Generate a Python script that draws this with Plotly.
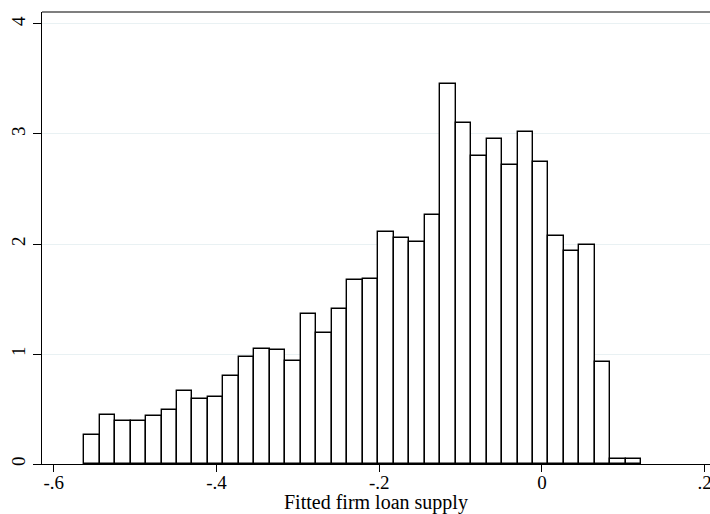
import plotly.graph_objects as go

bin_start = -0.5626
bin_width = 0.01902
density = [0.264, 0.445, 0.388, 0.388, 0.433, 0.494, 0.664, 0.594, 0.606, 0.800,
           0.973, 1.048, 1.039, 0.939, 1.360, 1.187, 1.405, 1.669, 1.682, 2.105,
           2.057, 2.015, 2.266, 3.455, 3.100, 2.800, 2.951, 2.721, 3.021, 2.742,
           2.069, 1.933, 1.991, 0.927, 0.048, 0.048]
x_ticks = [-0.6, -0.4, -0.2, 0.0, 0.2]
x_tick_labels = ["-.6", "-.4", "-.2", "0", ".2"]
y_ticks = [0, 1, 2, 3, 4]
y_tick_labels = ["0", "1", "2", "3", "4"]

centers = [bin_start + bin_width * (i + 0.5) for i in range(len(density))]

fig = go.Figure(go.Bar(
    x=centers, y=density, width=bin_width,
    marker=dict(color="white", line=dict(color="black", width=1.4)),
))

font = "Liberation Serif, Times New Roman, serif"
fig.update_layout(
    width=710, height=514,
    margin=dict(l=42, r=0, t=12, b=50, autoexpand=False),
    paper_bgcolor="white", plot_bgcolor="white",
    font=dict(family=font, size=19, color="black"),
    showlegend=False, bargap=0,
    shapes=[dict(type="line", xref="paper", yref="paper", x0=0, x1=1, y0=1, y1=1,
                 line=dict(color="black", width=1.2))],
    annotations=[dict(text="Fitted firm loan supply", xref="paper", yref="paper",
                      x=0.5, y=0, yshift=-38, xanchor="center", yanchor="middle",
                      showarrow=False, font=dict(size=20))],
)
fig.update_xaxes(
    range=[-0.61438, 0.20651], tickvals=x_ticks, ticktext=x_tick_labels,
    ticks="outside", ticklen=7, tickwidth=1, tickcolor="black",
    showline=True, linecolor="black", linewidth=1.2, showgrid=False, zeroline=False,
    tickfont=dict(size=19), automargin=False, ticklabelstandoff=-6,
    ticklabeloverflow="allow",
)
fig.update_yaxes(
    range=[0, 4.109], tickvals=y_ticks, ticktext=y_tick_labels,
    ticks="outside", ticklen=8, tickwidth=1, tickcolor="black", tickangle=-90,
    showline=True, linecolor="black", linewidth=1.2,
    showgrid=True, gridcolor="#e9f1f3", gridwidth=1, zeroline=False,
    tickfont=dict(size=19), automargin=False, ticklabelstandoff=0,
)
fig.write_html("out.html", config={"displayModeBar": False},
               post_script="document.body.style.margin='0';")
